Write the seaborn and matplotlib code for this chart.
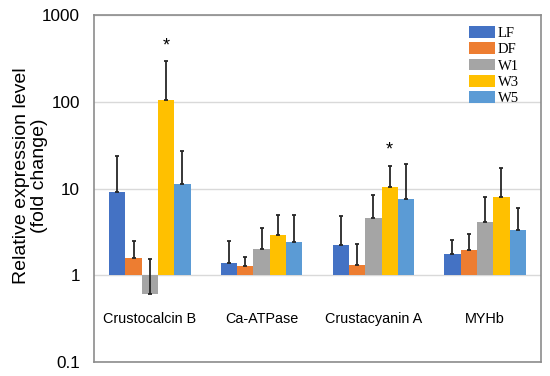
import matplotlib
matplotlib.use("Agg")
import numpy as np
import pandas as pd
import seaborn as sns
import matplotlib.pyplot as plt

genes = ["Crustocalcin B", "Ca-ATPase", "Crustacyanin A", "MYHb"]
groups = ["LF", "DF", "W1", "W3", "W5"]
colors = ["#4472C4", "#ED7D31", "#A5A5A5", "#FFC000", "#5B9BD5"]

# fold change (bar) and upper error bar end, per group
lf = [9.2, 1.40, 2.26, 1.78]
lf_top = [23.6, 2.47, 4.81, 2.56]
df_ = [1.57, 1.29, 1.33, 1.95]
df_top = [2.49, 1.64, 2.32, 3.0]
w1 = [0.61, 2.01, 4.52, 4.1]
w1_top = [1.52, 3.46, 8.48, 8.0]
w3 = [106, 2.95, 10.3, 8.0]
w3_top = [296, 4.98, 18.4, 17.4]
w5 = [11.2, 2.41, 7.5, 3.29]
w5_top = [27.4, 4.98, 19.0, 6.0]
stars = [("Crustocalcin B", "W3"), ("Crustacyanin A", "W3")]

yticks = [0.1, 1, 10, 100, 1000]
ytick_labels = ["0.1", "1", "10", "100", "1000"]

vals = [lf, df_, w1, w3, w5]
tops = [lf_top, df_top, w1_top, w3_top, w5_top]
data = pd.DataFrame({
    "gene": genes * len(groups),
    "group": np.repeat(groups, len(genes)),
    "value": np.concatenate(vals),
    "top": np.concatenate(tops),
})
# bars start at 1 on a log axis -> plot log10 values on a linear axis
data["logv"] = np.log10(data["value"])
data["logtop"] = np.log10(data["top"])

plt.rcParams["font.family"] = ["Liberation Sans", "DejaVu Sans"]
fig = plt.figure(figsize=(5.5, 3.76), dpi=100)
ax = fig.add_axes([0.1709, 0.0372, 0.8127, 0.9229])

sns.barplot(data=data, x="gene", y="logv", hue="group", order=genes,
            hue_order=groups, palette=colors, saturation=1, width=0.73,
            errorbar=None, ax=ax, zorder=2)

bar_conts = list(ax.containers)
for i, cont in enumerate(bar_conts):
    sub = data[data["group"] == groups[i]].set_index("gene").loc[genes]
    xs = [b.get_x() + b.get_width() / 2 for b in cont]
    up = (sub["logtop"] - sub["logv"]).to_numpy()
    ax.errorbar(xs, sub["logv"].to_numpy(), yerr=[np.zeros_like(up), up],
                fmt="none", ecolor="#262626", elinewidth=1.3, capsize=1.5,
                capthick=1.3, zorder=3)
    for gene, grp in stars:
        if grp == groups[i]:
            j = genes.index(gene)
            ax.annotate("*", (xs[j], sub["logtop"].iloc[j]), xytext=(0, 11),
                        textcoords="offset points", ha="center", va="center",
                        fontsize=13, color="black")

ax.set_xlim(-0.5, 3.5)
ax.set_ylim(-1, 3)
ax.set_yticks(np.log10(yticks))
ax.set_yticklabels(ytick_labels, fontsize=12.3)
ax.tick_params(axis="y", length=0, pad=10)
ax.tick_params(axis="x", length=0, pad=-36, labelsize=10.4)
ax.grid(axis="y", color="#d9d9d9", linewidth=1, zorder=0)
ax.set_axisbelow(True)
for s in ax.spines.values():
    s.set_color("#8c8c8c")
    s.set_linewidth(1.2)

ax.set_xlabel("")
ax.set_ylabel("Relative expression level\n(fold change)", fontsize=14,
              linespacing=1.1)
ax.yaxis.set_label_coords(-0.102, 0.536)

h, l = ax.get_legend_handles_labels()
ax.legend(h, l, loc="upper right", bbox_to_anchor=(0.95, 0.968), frameon=False,
          prop={"family": "Liberation Serif", "size": 10.5},
          handlelength=1.75, handleheight=0.85, labelspacing=0.17,
          handletextpad=0.2, borderaxespad=0, borderpad=0)

fig.savefig("out.png", dpi=100)
